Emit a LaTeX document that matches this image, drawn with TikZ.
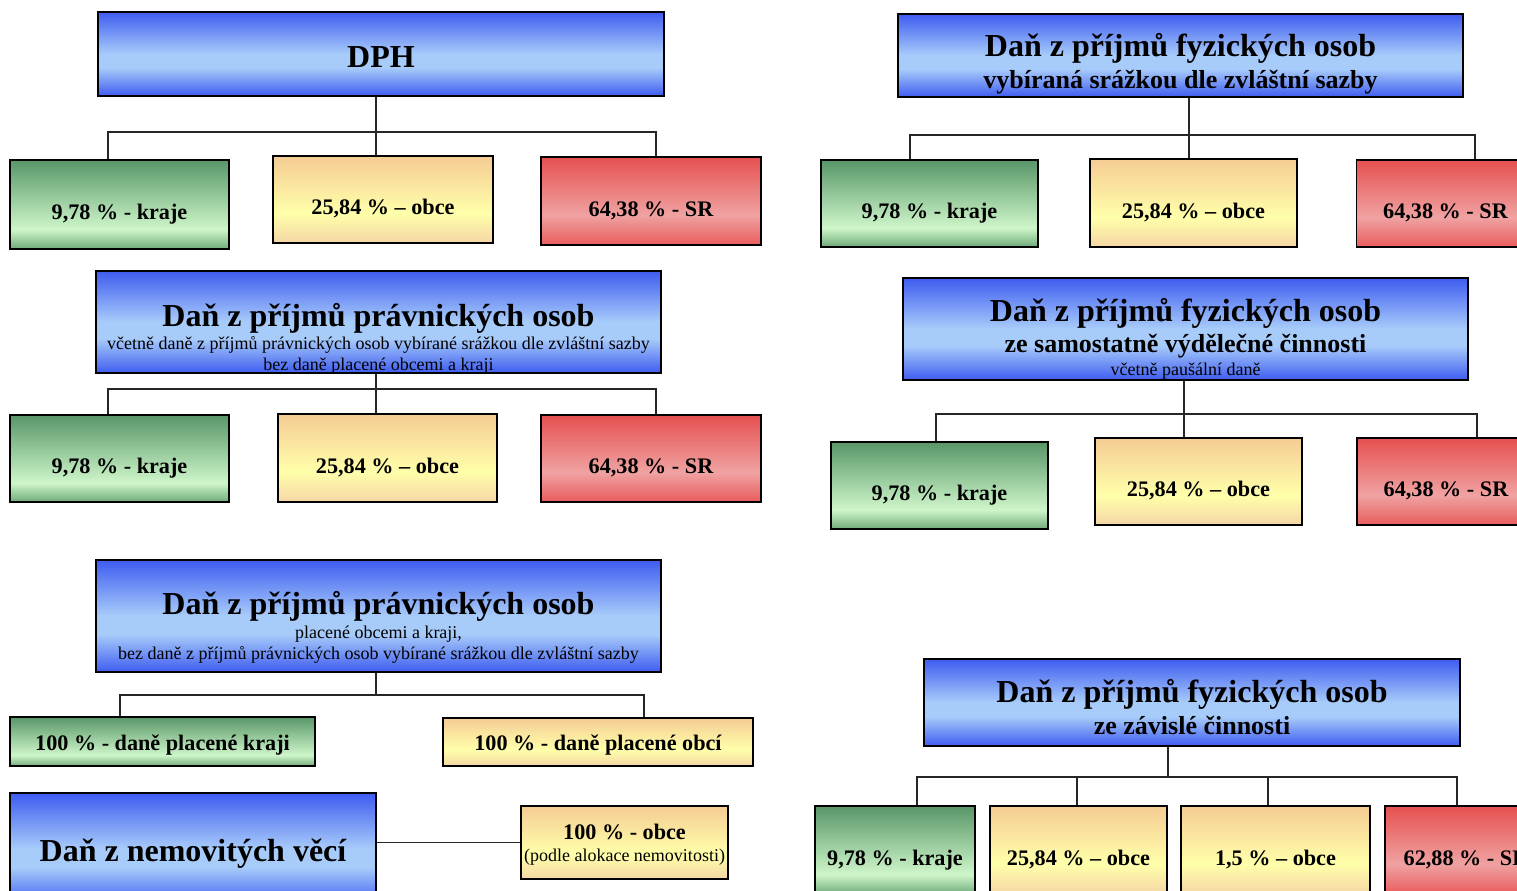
\documentclass[tikz,border=0pt]{standalone}
\usepackage{fontspec}
\setmainfont{Liberation Serif}
\definecolor{bdark}{RGB}{62,92,240}
\definecolor{blight}{RGB}{168,204,250}
\definecolor{gdark}{RGB}{88,150,104}
\definecolor{glight}{RGB}{206,246,202}
\definecolor{gbot}{RGB}{112,170,122}
\definecolor{ytop}{RGB}{245,204,148}
\definecolor{ylight}{RGB}{255,255,170}
\definecolor{ybot}{RGB}{245,214,165}
\definecolor{rdark}{RGB}{230,80,80}
\definecolor{rlight}{RGB}{240,162,162}
\definecolor{rbot}{RGB}{232,92,92}
\pgfdeclareverticalshading{blueshade}{100bp}{color(0bp)=(bdark); color(25bp)=(bdark); color(42bp)=(blight); color(50bp)=(blight); color(75bp)=(bdark); color(100bp)=(bdark)}
\pgfdeclareverticalshading{greenshade}{100bp}{color(0bp)=(gbot); color(25bp)=(gbot); color(36bp)=(glight); color(75bp)=(gdark); color(100bp)=(gdark)}
\pgfdeclareverticalshading{yellowshade}{100bp}{color(0bp)=(ybot); color(25bp)=(ybot); color(42bp)=(ylight); color(75bp)=(ytop); color(100bp)=(ytop)}
\pgfdeclareverticalshading{redshade}{100bp}{color(0bp)=(rbot); color(25bp)=(rbot); color(42bp)=(rlight); color(75bp)=(rdark); color(100bp)=(rdark)}
\newcommand\ftitle{\fontsize{16pt}{19pt}\selectfont\bfseries}
\newcommand\fsub{\fontsize{13pt}{16pt}\selectfont\bfseries}
\newcommand\fsmall{\fontsize{9pt}{11pt}\selectfont}
\newcommand\flbl{\fontsize{11.1pt}{13pt}\selectfont\bfseries}
\tikzset{
  box/.style={draw=black, line width=0.8pt, inner sep=0pt, align=center},
  bluebox/.style={box, shading=blueshade},
  leaf/.style={box, font=\flbl, text height=15.3pt, text depth=0pt},
  gleaf/.style={leaf, shading=greenshade},
  yleaf/.style={leaf, shading=yellowshade},
  rleaf/.style={leaf, shading=redshade},
  ttl/.style={inner sep=0pt, font=\ftitle, text height=10.6pt, text depth=0pt},
  subt/.style={inner sep=0pt, font=\fsub, text height=8.6pt, text depth=0pt},
  smallt/.style={inner sep=0pt, font=\fsmall, text height=6pt, text depth=0pt},
  lblt/.style={inner sep=0pt, font=\flbl, text height=7.3pt, text depth=0pt},
  conn/.style={draw=black!85, line width=0.7pt}
}
\begin{document}
\begin{tikzpicture}[x=0.5pt,y=-0.5pt]
\useasboundingbox (0,0) rectangle (1517,890);
\clip (0,0) rectangle (1517,890);
\fill[white] (0,0) rectangle (1517,890);

% ---------- DPH ----------
\node[bluebox, minimum width=283pt, minimum height=42pt, font=\ftitle, text height=13.1pt, text depth=0pt] (dph) at (381,54) {DPH};
\node[gleaf, minimum width=109.5pt, minimum height=44.5pt] (dphk) at (119.5,204.5) {9,78 \% - kraje};
\node[yleaf, minimum width=110pt, minimum height=43.5pt] (dpho) at (383,199.5) {25,84 \% – obce};
\node[rleaf, minimum width=110pt, minimum height=44pt] (dphs) at (651,201) {64,38 \% - SR};
\coordinate (b1l) at (108,132); \coordinate (b1m) at (376,132); \coordinate (b1r) at (656,132);
\draw[conn] (b1m |- dph.south) -- (b1m) -- (b1m |- dpho.north);
\draw[conn] (b1l |- dphk.north) -- (b1l) -- (b1r) -- (b1r |- dphs.north);

% ---------- DPFO srazkou ----------
\node[bluebox, minimum width=282.5pt, minimum height=41.5pt] (fos) at (1180.5,55.5) {};
\node[ttl] (fos1) at (1180.5,46) {Daň z příjmů fyzických osob};
\node[subt] (fos2) at (1180.5,80) {vybíraná srážkou dle zvláštní sazby};
\node[gleaf, minimum width=108.5pt, minimum height=43.5pt] (fosk) at (929.5,203.5) {9,78 \% - kraje};
\node[yleaf, minimum width=103.5pt, minimum height=44pt] (foso) at (1193.5,203) {25,84 \% – obce};
\node[rleaf, minimum width=89pt, minimum height=43.5pt] (foss) at (1445.5,203.5) {64,38 \% - SR};
\coordinate (b2l) at (910,135); \coordinate (b2m) at (1189,135); \coordinate (b2r) at (1475,135);
\draw[conn] (b2m |- fos.south) -- (b2m) -- (b2m |- foso.north);
\draw[conn] (b2l |- fosk.north) -- (b2l) -- (b2r) -- (b2r |- foss.north);

% ---------- DPPO vcetne srazkove ----------
\node[bluebox, minimum width=282.5pt, minimum height=51pt] (ppo) at (378.5,322) {};
\node[ttl] (ppo1) at (378.5,316) {Daň z příjmů právnických osob};
\node[smallt] (ppo2) at (378.5,343) {včetně daně z příjmů právnických osob vybírané srážkou dle zvláštní sazby};
\node[smallt] (ppo3) at (378.5,364) {bez daně placené obcemi a kraji};
\node[gleaf, minimum width=109.5pt, minimum height=43.5pt] (ppok) at (119.5,458.5) {9,78 \% - kraje};
\node[yleaf, minimum width=109.5pt, minimum height=44pt] (ppoo) at (387.5,458) {25,84 \% – obce};
\node[rleaf, minimum width=110pt, minimum height=43.5pt] (ppos) at (651,458.5) {64,38 \% - SR};
\coordinate (b3l) at (108,389); \coordinate (b3m) at (376,389); \coordinate (b3r) at (656,389);
\draw[conn] (b3m |- ppo.south) -- (b3m) -- (b3m |- ppoo.north);
\draw[conn] (b3l |- ppok.north) -- (b3l) -- (b3r) -- (b3r |- ppos.north);

% ---------- DPFO SVC ----------
\node[bluebox, minimum width=282.5pt, minimum height=51pt] (svc) at (1185.5,329) {};
\node[ttl] (svc1) at (1185.5,311) {Daň z příjmů fyzických osob};
\node[subt] (svc2) at (1185.5,344) {ze samostatně výdělečné činnosti};
\node[smallt] (svc3) at (1185.5,369) {včetně paušální daně};
\node[gleaf, minimum width=108.5pt, minimum height=43.5pt] (svck) at (939.5,485.5) {9,78 \% - kraje};
\node[yleaf, minimum width=103.5pt, minimum height=43.5pt] (svco) at (1198.5,481.5) {25,84 \% – obce};
\node[rleaf, minimum width=89pt, minimum height=43.5pt] (svcs) at (1446,481.5) {64,38 \% - SR};
\coordinate (b4l) at (936,414); \coordinate (b4m) at (1184,414); \coordinate (b4r) at (1477,414);
\draw[conn] (b4m |- svc.south) -- (b4m) -- (b4m |- svco.north);
\draw[conn] (b4l |- svck.north) -- (b4l) -- (b4r) -- (b4r |- svcs.north);

% ---------- DPPO placene obcemi a kraji ----------
\node[bluebox, minimum width=282.5pt, minimum height=56pt] (pok) at (378.5,616) {};
\node[ttl] (pok1) at (378.5,604) {Daň z příjmů právnických osob};
\node[smallt] (pok2) at (378.5,632) {placené obcemi a kraji,};
\node[smallt] (pok3) at (378.5,653) {bez daně z příjmů právnických osob vybírané srážkou dle zvláštní sazby};
\node[gleaf, minimum width=152.5pt, minimum height=24.5pt, text height=8.8pt] (pokk) at (162.5,741.5) {100 \% - daně placené kraji};
\node[yleaf, minimum width=155pt, minimum height=24pt, text height=8.8pt] (poko) at (598,742) {100 \% - daně placené obcí};
\coordinate (b5l) at (120,695); \coordinate (b5m) at (376,695); \coordinate (b5r) at (644,695);
\draw[conn] (b5m |- pok.south) -- (b5m);
\draw[conn] (b5l |- pokk.north) -- (b5l) -- (b5r) -- (b5r |- poko.north);

% ---------- Dan z nemovitych veci ----------
\node[bluebox, minimum width=183pt, minimum height=56pt, font=\ftitle, text height=12.6pt, text depth=0pt] (nem) at (193,849) {Daň z nemovitých věcí};
\node[box, shading=yellowshade, minimum width=103.5pt, minimum height=36.5pt] (nemo) at (624.5,842.5) {};
\node[lblt] (nemo1) at (624.5,832) {100 \% - obce};
\node[smallt] (nemo2) at (624.5,855) {(podle alokace nemovitosti)};
\draw[conn] (nemo.west -| nem.east) -- (nemo.west);

% ---------- DPFO zavisla cinnost ----------
\node[bluebox, minimum width=268pt, minimum height=43.5pt] (zc) at (1192,702.5) {};
\node[ttl] (zc1) at (1192,692) {Daň z příjmů fyzických osob};
\node[subt] (zc2) at (1192,726) {ze závislé činnosti};
\node[gleaf, minimum width=80pt, minimum height=44pt] (zck) at (895,850) {9,78 \% - kraje};
\node[yleaf, minimum width=88.5pt, minimum height=44pt] (zco) at (1078.5,850) {25,84 \% – obce};
\node[yleaf, minimum width=94.5pt, minimum height=44pt] (zco2) at (1275.5,850) {1,5 \% – obce};
\node[rleaf, minimum width=81pt, minimum height=44pt] (zcs) at (1466,850) {62,88 \% - SR};
\coordinate (b7a) at (917,777); \coordinate (b7b) at (1077,777); \coordinate (b7m) at (1168,777);
\coordinate (b7c) at (1268,777); \coordinate (b7d) at (1457,777);
\draw[conn] (b7m |- zc.south) -- (b7m);
\draw[conn] (b7a |- zck.north) -- (b7a) -- (b7d) -- (b7d |- zcs.north);
\draw[conn] (b7b) -- (b7b |- zco.north);
\draw[conn] (b7c) -- (b7c |- zco2.north);
\end{tikzpicture}
\end{document}
